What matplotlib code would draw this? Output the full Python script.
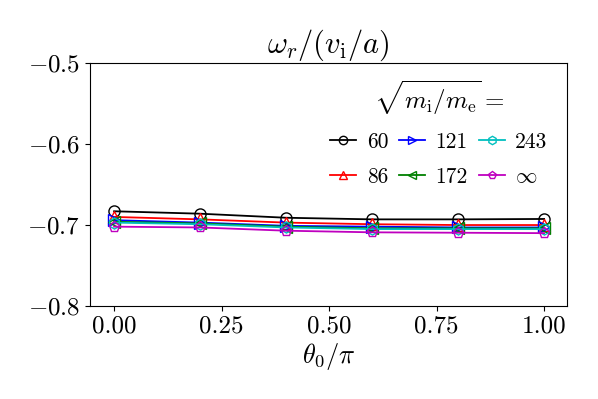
import numpy as np
import matplotlib
matplotlib.use('Agg')
import matplotlib.pyplot as plt

# Computer Modern look
plt.rcParams['font.family'] = 'serif'
plt.rcParams['font.serif'] = ['cmr10', 'DejaVu Serif']
plt.rcParams['mathtext.fontset'] = 'cm'
plt.rcParams['axes.formatter.use_mathtext'] = True
plt.rcParams['axes.unicode_minus'] = True

theta = [0.0, 0.2, 0.4, 0.6, 0.8, 1.0]
labels = ['60', '86', '121', '172', '243', r'$\infty$']
w60 = [-0.683, -0.686, -0.691, -0.693, -0.693, -0.6925]
w86 = [-0.690, -0.693, -0.697, -0.699, -0.700, -0.700]
w121 = [-0.694, -0.697, -0.701, -0.702, -0.703, -0.703]
w172 = [-0.696, -0.698, -0.702, -0.704, -0.704, -0.704]
w243 = [-0.697, -0.699, -0.703, -0.705, -0.705, -0.705]
winf = [-0.702, -0.703, -0.707, -0.709, -0.7095, -0.710]

series = [w60, w86, w121, w172, w243, winf]
colors = ['k', 'r', 'b', 'g', 'c', 'm']
markers = ['o', '^', '>', '<', 'h', 'p']

fig = plt.figure(figsize=(5.98, 3.99), dpi=100)
ax = fig.add_axes([0.1505, 0.233, 0.7975, 0.609])

for y, c, m, lab in zip(series, colors, markers, labels):
    ax.plot(theta, y, color=c, marker=m, mfc='none', markersize=8, lw=1.3, label=lab)

ax.set_xlim(-0.056, 1.053)
ax.set_ylim(-0.8, -0.5)
ax.set_xticks([0, 0.25, 0.5, 0.75, 1.0])
ax.set_xticklabels(['0.00', '0.25', '0.50', '0.75', '1.00'])
ax.set_yticks([-0.8, -0.7, -0.6, -0.5])
ax.set_yticklabels([r'$-0.8$', r'$-0.7$', r'$-0.6$', r'$-0.5$'])
ax.tick_params(labelsize=18)
ax.set_xlabel(r'$\theta_0/\pi$', fontsize=19, labelpad=2)
ax.set_title(r'$\omega_r/(v_\mathrm{i}/a)$', fontsize=22, pad=4)

# legend order: column-wise 60,86 | 121,172 | 243,inf
ax.legend(ncol=3, frameon=False, fontsize=15.5,
          title=r'$\sqrt{m_\mathrm{i}/m_\mathrm{e}} =$', title_fontsize=18,
          loc='upper right', bbox_to_anchor=(1.0, 1.015),
          handlelength=1.2, handletextpad=0.5, columnspacing=0.5,
          labelspacing=0.7, markerscale=0.75)

fig.savefig('out.png', dpi=100)
